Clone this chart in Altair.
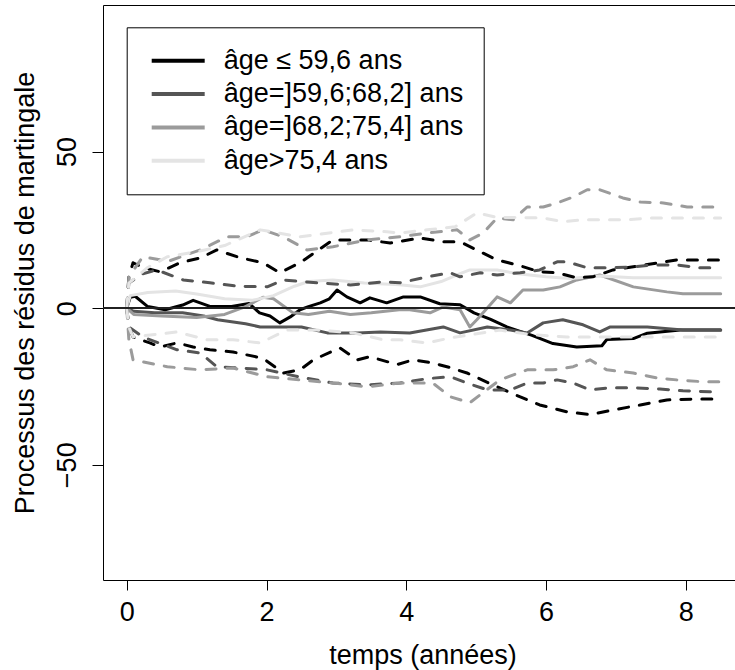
import altair as alt
import pandas as pd

GROUPS = ["âge ≤ 59,6 ans", "âge=]59,6;68,2] ans", "âge=]68,2;75,4] ans", "âge>75,4 ans"]
COLORS = ["#000000", "#555555", "#9b9b9b", "#e4e4e4"]
X_TICKS = [0, 2, 4, 6, 8]
Y_TICKS = [-50, 0, 50]

# ---- group 1 : âge <= 59,6 ----
G1_OBS_T = [0, 0.05, 0.12, 0.3, 0.55, 0.8, 0.95, 1.2, 1.5, 1.75, 1.9, 2.05, 2.19, 2.34, 2.48, 2.6,
            2.77, 2.9, 3.01, 3.15, 3.34, 3.48, 3.72, 3.96, 4.2, 4.48, 4.77, 4.97, 5.2, 5.44, 5.8,
            6.1, 6.44, 6.8, 6.87, 7.25, 7.45, 7.92, 8.5]
G1_OBS_Y = [0, 3.5, 3.8, 0.5, -0.5, 1.0, 2.5, 0.5, 0.5, 1.5, -1.5, -2.5, -4.7, -2.8, -0.5, 0.5,
            1.7, 3.0, 5.8, 3.6, 1.7, 3.3, 1.7, 3.6, 3.6, 1.4, 1.1, -1.5, -3.5, -6.0, -8.7,
            -11.3, -12.4, -12.0, -10.0, -9.7, -8.0, -7.0, -7.0]
G1_UP_T = [0, 0.03, 0.09, 0.23, 0.48, 0.76, 1.05, 1.29, 1.62, 1.95, 2.19, 2.48, 2.95, 3.44, 3.77,
           4.2, 4.53, 4.77, 5.06, 5.3, 5.59, 5.91, 6.16, 6.44, 6.67, 6.96, 7.25, 7.87, 8.5]
G1_UP_Y = [0, 10, 14.5, 13, 11.6, 14.5, 16, 18.6, 16.1, 14.5, 11.3, 14.5, 21.8, 21.8, 20.8,
           22.4, 21.2, 21.2, 18.0, 15.4, 13.8, 11.6, 11.3, 9.7, 10.0, 12.2, 13.2, 15.4, 15.4]
G1_LO_T = [0, 0.03, 0.09, 0.33, 0.48, 0.72, 0.95, 1.19, 1.52, 1.95, 2.24, 2.48, 2.67, 3.05, 3.3,
           3.48, 3.87, 4.1, 4.38, 4.63, 4.87, 5.24, 5.49, 5.91, 6.3, 6.63, 6.96, 7.35, 7.73, 8.2, 8.5]
G1_LO_Y = [0, -6, -9.2, -11.1, -12.4, -11.1, -12.4, -13.3, -14, -16, -20.7, -19.7, -16.5, -12.7,
           -16.5, -15.5, -18, -16.5, -17.5, -19, -20.7, -24.5, -27.0, -30.9, -33.1, -34.0, -32.5,
           -30.9, -29.3, -29.0, -29.0]

# ---- group 2 : âge ]59,6;68,2] ----
G2_OBS_T = [0, 0.1, 0.4, 0.8, 1.1, 1.3, 1.7, 1.91, 2.3, 2.5, 2.87, 3.3, 3.63, 4.05, 4.53, 4.77,
            5.16, 5.49, 5.73, 5.96, 6.24, 6.53, 6.77, 6.92, 7.45, 7.96, 8.5]
G2_OBS_Y = [0, -1, -1.5, -1.5, -2.5, -3.7, -5, -6.0, -6.0, -6.0, -7.9, -7.9, -7.6, -7.9, -6.0,
            -7.9, -6.0, -7.0, -7.9, -4.7, -3.7, -5.3, -7.6, -6.0, -6.0, -7.0, -7.0]
G2_UP_T = [0, 0.03, 0.23, 0.43, 0.81, 1.19, 1.6, 2.01, 2.24, 2.72, 3.2, 3.67, 3.91, 4.3, 4.63,
           4.77, 5.06, 5.3, 5.63, 5.91, 6.16, 6.3, 6.59, 6.96, 7.25, 7.53, 7.87, 8.2, 8.5]
G2_UP_Y = [0, 8, 11, 12.2, 9.0, 8.1, 7, 6.8, 9.0, 8.1, 7.4, 8.4, 8.1, 10.0, 11.3,
           10.0, 11.3, 10.6, 11.3, 12.2, 14.8, 14.8, 12.9, 12.9, 13.2, 13.8, 13.8, 12.9, 12.9]
G2_LO_T = [0, 0.03, 0.23, 0.72, 1.05, 1.29, 1.62, 2.01, 2.48, 2.95, 3.44, 3.91, 4.3, 4.63, 4.87,
           5.16, 5.49, 5.73, 5.96, 6.16, 6.39, 6.63, 6.92, 7.25, 7.63, 7.96, 8.34, 8.5]
G2_LO_Y = [0, -6, -9.2, -13.3, -14.3, -18.7, -19.1, -19.7, -22, -23.9, -24.5, -23.9, -22.5, -21.9,
           -23.9, -26.1, -26.1, -23.9, -23.9, -22.9, -23.9, -26.1, -25.4, -25.4, -25.8, -26.4,
           -26.7, -26.7]

# ---- group 3 : âge ]68,2;75,4] ----
G3_OBS_T = [0, 0.1, 0.5, 1.0, 1.4, 1.7, 1.95, 2.1, 2.38, 2.6, 2.9, 3.2, 3.5, 3.9, 4.05, 4.34,
            4.53, 4.77, 4.91, 5.01, 5.3, 5.49, 5.67, 5.96, 6.2, 6.44, 6.77, 7.25, 7.73, 7.96, 8.5]
G3_OBS_Y = [0, -2, -2.5, -3, -2, 0.5, 3.5, 3, -1.5, -2, -1, -2, -1.5, -0.5, -0.5, -1.5,
            0.4, -0.5, -6.0, -3.7, 3.6, 1.7, 5.8, 5.8, 6.8, 9.0, 10.6, 6.8, 5.2, 4.6, 4.6]
G3_UP_T = [0, 0.03, 0.23, 0.6, 1.05, 1.44, 1.72, 1.95, 2.24, 2.58, 2.95, 3.44, 3.91, 4.3, 4.73,
           4.91, 5.1, 5.3, 5.53, 5.73, 5.96, 6.16, 6.39, 6.59, 6.77, 7.1, 7.35, 7.68, 8.02, 8.5]
G3_UP_Y = [0, 10, 16.4, 15, 18.6, 22.8, 22.8, 25.0, 22.8, 18.6, 19.6, 21.8, 22.8, 24, 25.0,
           21.8, 24.0, 28.8, 28.2, 32.3, 32.3, 33.6, 35.5, 37.8, 37.8, 35.2, 33.9, 33.6, 32.3, 32.3]
G3_LO_T = [0, 0.03, 0.09, 0.58, 1.05, 1.52, 2.01, 2.48, 2.95, 3.44, 3.91, 4.38, 4.63, 4.91,
           5.34, 5.73, 6.1, 6.39, 6.63, 6.87, 7.25, 7.59, 7.87, 8.25, 8.5]
G3_LO_Y = [0, -10, -16.5, -18.7, -19.7, -19.1, -21.9, -22.9, -23.9, -25.1, -23.9, -23.9, -28.3,
           -30.2, -22.9, -19.7, -19.7, -18.7, -16.5, -19.7, -20.7, -22.3, -22.9, -23.5, -23.5]

# ---- group 4 : âge > 75,4 ----
G4_OBS_T = [0, 0.05, 0.3, 0.7, 1.0, 1.4, 1.8, 2.1, 2.4, 2.6, 2.95, 3.4, 3.9, 4.2, 4.5, 4.77,
            4.91, 5.3, 5.6, 6.0, 6.34, 6.77, 7.25, 8.5]
G4_OBS_Y = [0, 4, 5, 5.5, 4.5, 3, 2.5, 4, 7, 8.5, 9, 8, 7.5, 6.8, 8.5, 11, 12.2, 12.2, 11.0,
            10.0, 9.5, 10.3, 9.7, 9.7]
G4_UP_T = [0, 0.03, 0.3, 0.58, 1.0, 1.4, 1.91, 2.48, 3.24, 3.72, 3.91, 4.3, 4.7, 5.01, 5.3,
           5.96, 6.24, 6.53, 7.16, 7.49, 8.3, 8.5]
G4_UP_Y = [0, 8, 13, 16.4, 18, 20, 25.0, 22.8, 25.0, 24.4, 24.0, 25, 26, 30.4, 29, 28.8, 27.6,
           28.2, 28.2, 28.8, 28.8, 28.8]
G4_LO_T = [0, 0.03, 0.09, 0.72, 1.15, 1.52, 1.91, 2.29, 2.72, 3.24, 3.67, 3.91, 4.3, 4.63, 5.34,
           5.81, 6.3, 7.25, 8.5]
G4_LO_Y = [0, -6, -9.2, -7.6, -10.1, -10.1, -11.1, -7.0, -7.0, -7.9, -10.1, -10.1, -11.1, -9.5,
           -7.0, -8.5, -9.2, -9.2, -9.2]

SERIES = [
    (0, "obs", G1_OBS_T, G1_OBS_Y), (0, "up", G1_UP_T, G1_UP_Y), (0, "lo", G1_LO_T, G1_LO_Y),
    (1, "obs", G2_OBS_T, G2_OBS_Y), (1, "up", G2_UP_T, G2_UP_Y), (1, "lo", G2_LO_T, G2_LO_Y),
    (2, "obs", G3_OBS_T, G3_OBS_Y), (2, "up", G3_UP_T, G3_UP_Y), (2, "lo", G3_LO_T, G3_LO_Y),
    (3, "obs", G4_OBS_T, G4_OBS_Y), (3, "up", G4_UP_T, G4_UP_Y), (3, "lo", G4_LO_T, G4_LO_Y),
]

rows = []
for gi, kind, ts, ys in SERIES:
    for i, (t, y) in enumerate(zip(ts, ys)):
        rows.append({"t": t, "y": y, "group": GROUPS[gi], "gi": gi,
                     "kind": kind, "series": f"{gi}-{kind}", "i": i})
df = pd.DataFrame(rows)
df_obs = df[df.kind == "obs"]
df_band = df[df.kind != "obs"]

FONT = "Liberation Sans"
x_scale = alt.Scale(domain=[-0.34, 8.705], nice=False, zero=False)
y_scale = alt.Scale(domain=[-86.8, 96.8], nice=False, zero=False)
color_scale = alt.Scale(domain=GROUPS, range=COLORS)

x_axis = alt.Axis(values=X_TICKS, title="temps (années)", tickSize=10, labelPadding=30,
                  labelBaseline="alphabetic", labelAlign="center", titleX=319.5, titleY=83,
                  titleAlign="center", titleBaseline="alphabetic", grid=False)
y_axis = alt.Axis(values=Y_TICKS, title="Processus des résidus de martingale", tickSize=11,
                  labelAngle=270, labelAlign="center", labelBaseline="alphabetic",
                  labelPadding=17, titleAngle=270, titleX=-70, titleY=287.5,
                  titleAlign="center", titleBaseline="alphabetic", grid=False)

legend = alt.Legend(orient="none", legendX=23.7, legendY=22.3, title=None,
                    symbolType="M-3,0L3,0", symbolSize=312, symbolStrokeWidth=4,
                    symbolOffset=18, labelOffset=32, padding=20, rowPadding=5.3,
                    labelFontSize=27, labelFont=FONT, labelColor="black",
                    strokeColor="black", fillColor="white", labelLimit=0, cornerRadius=0)

obs = alt.Chart(df_obs).mark_line(strokeWidth=3, strokeCap="round", strokeJoin="round").encode(
    x=alt.X("t:Q", scale=x_scale, axis=x_axis),
    y=alt.Y("y:Q", scale=y_scale, axis=y_axis),
    color=alt.Color("group:N", scale=color_scale, sort=GROUPS, legend=legend),
    detail="series:N",
    order="i:Q",
)

bands = alt.Chart(df_band).mark_line(strokeWidth=3, strokeDash=[10, 11], strokeCap="round",
                                     strokeJoin="round").encode(
    x=alt.X("t:Q", scale=x_scale, axis=None),
    y=alt.Y("y:Q", scale=y_scale),
    color=alt.Color("group:N", scale=color_scale, sort=GROUPS, legend=None),
    detail="series:N",
    order="i:Q",
)

zero = alt.Chart(df_obs).mark_rule(color="#222222", strokeWidth=1).encode(
    y=alt.datum(0, scale=y_scale)
)

top_frame = alt.Chart(df_obs).mark_point(opacity=0).encode(
    x=alt.X("t:Q", scale=x_scale,
            axis=alt.Axis(orient="top", labels=False, ticks=False, title=None,
                          domain=True, grid=False)),
    y=alt.Y("y:Q", scale=y_scale),
)

chart = alt.layer(obs, bands, zero, top_frame).resolve_axis(x="independent").properties(
    width=632, height=575,
    padding={"left": 103, "top": 5, "right": 0, "bottom": 90},
    autosize=alt.AutoSizeParams(type="none"),
).configure_view(stroke=None).configure_axis(
    labelFont=FONT, titleFont=FONT, labelFontSize=27, titleFontSize=27,
    labelColor="black", titleColor="black", tickColor="black", domainColor="black",
    titleFontWeight="normal", domainWidth=1, tickWidth=1,
)

chart.save("out.html", embed_options={"renderer": "svg", "actions": False})
